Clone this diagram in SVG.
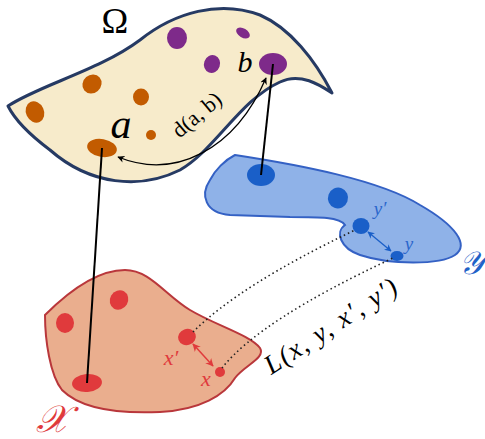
<svg xmlns="http://www.w3.org/2000/svg" width="485" height="439" viewBox="0 0 485 439">
<defs>
<style>
.omega{fill:#f7ebcb;stroke:#263a63;stroke-width:3;stroke-linejoin:round}
.yset{fill:#8fb2e8;stroke:#3461c4;stroke-width:2}
.xset{fill:#eaae8e;stroke:#b9373b;stroke-width:2}
.or{fill:#c25b00}
.pu{fill:#7e2a8a}
.bl{fill:#1a5fc8}
.rd{fill:#e03a3c}
.map{stroke:#000;stroke-width:2;fill:none}
.dot{stroke:#222;stroke-width:1.6;fill:none;stroke-dasharray:1.5 3}
.math{font-family:"Liberation Serif","DejaVu Serif",serif;font-style:italic}
</style>
<marker id="ak" viewBox="0 0 10 10" refX="9" refY="5" markerWidth="7" markerHeight="7" orient="auto-start-reverse" markerUnits="userSpaceOnUse"><path d="M0,0 L10,5 L0,10 L3,5 Z" fill="#000"/></marker>
<marker id="ab" viewBox="0 0 10 10" refX="9" refY="5" markerWidth="7" markerHeight="7" orient="auto-start-reverse" markerUnits="userSpaceOnUse"><path d="M0,0 L10,5 L0,10 L3,5 Z" fill="#1a5fc8"/></marker>
<marker id="ar" viewBox="0 0 10 10" refX="9" refY="5" markerWidth="8" markerHeight="8" orient="auto-start-reverse" markerUnits="userSpaceOnUse"><path d="M0,0 L10,5 L0,10 L3,5 Z" fill="#e03a3c"/></marker>
</defs>

<g id="node-omega">
<path class="omega" d="M8,106 C40,85 100,70 140,40 C175,12 220,0 260,15 C290,28 315,60 332,93 C320,85 300,72 280,82 C240,100 215,150 180,170 C140,190 90,185 50,150 C30,135 15,120 8,106 Z"/>
<ellipse class="or" cx="35" cy="112" rx="9" ry="11" transform="rotate(-25 35 112)"/>
<ellipse class="or" cx="92" cy="84" rx="10" ry="9" transform="rotate(-40 92 84)"/>
<ellipse class="or" cx="141" cy="97" rx="8" ry="8.5"/>
<circle class="or" cx="151" cy="135" r="5"/>
<ellipse class="or" cx="102" cy="148" rx="15" ry="9" transform="rotate(10 102 148)"/>
<ellipse class="pu" cx="177" cy="38" rx="10" ry="11"/>
<ellipse class="pu" cx="212" cy="64" rx="8" ry="9" transform="rotate(20 212 64)"/>
<ellipse class="pu" cx="243" cy="33" rx="7.5" ry="4.5" transform="rotate(30 243 33)"/>
<ellipse class="pu" cx="273" cy="64" rx="14" ry="11"/>
<text x="115" y="33" font-family="'Liberation Serif','DejaVu Serif',serif" font-size="36" text-anchor="middle">Ω</text>
<text class="math" x="121" y="138" font-size="42" text-anchor="middle">a</text>
<text class="math" x="245" y="72" font-size="30" text-anchor="middle">b</text>
<text x="197" y="122" font-family="'Liberation Serif','DejaVu Serif',serif" font-size="22" text-anchor="middle" transform="rotate(-40 197 115)">d(a, b)</text>
</g>

<g id="node-y">
<path class="yset" d="M235,155 C300,165 380,180 420,205 C455,225 470,245 455,255 C440,265 390,265 360,255 C340,248 335,232 345,225 C340,217 320,217 290,217 L230,215 C205,213 200,195 210,180 C215,170 225,160 235,155 Z"/>
<ellipse class="bl" cx="261" cy="175" rx="14" ry="11"/>
<ellipse class="bl" cx="338" cy="198" rx="10" ry="10.5" transform="rotate(20 338 198)"/>
<ellipse class="bl" cx="361" cy="226" rx="8.5" ry="8"/>
<ellipse class="bl" cx="397" cy="256" rx="6.5" ry="5"/>
<text class="math" x="380" y="215" font-size="19" fill="#2a66cc" text-anchor="middle">y′</text>
<text class="math" x="409" y="250" font-size="19" fill="#2a66cc" text-anchor="middle">y</text>
<text class="math" x="459" y="274" font-size="32" fill="#1f62c8">𝒴</text>
</g>

<g id="node-x">
<path class="xset" d="M45,315 C65,295 95,270 125,270 C150,270 165,295 190,310 C215,325 250,335 260,348 C266,358 245,365 235,378 C225,395 200,410 160,412 C115,414 80,408 62,390 C50,375 45,340 45,315 Z"/>
<ellipse class="rd" cx="65" cy="323" rx="9" ry="10"/>
<ellipse class="rd" cx="119" cy="300" rx="9" ry="10" transform="rotate(30 119 300)"/>
<ellipse class="rd" cx="187" cy="337" rx="9" ry="8" transform="rotate(-20 187 337)"/>
<circle class="rd" cx="220" cy="372" r="5"/>
<ellipse class="rd" cx="87" cy="383" rx="15" ry="9" transform="rotate(-5 87 383)"/>
<text class="math" x="171" y="365" font-size="22" fill="#e03a3c" text-anchor="middle">x′</text>
<text class="math" x="206" y="386" font-size="22" fill="#e03a3c" text-anchor="middle">x</text>
<text class="math" x="52" y="432" font-size="38" fill="#e03a3c" text-anchor="middle">𝒳</text>
</g>

<g id="connectors">
<path class="map" d="M102,148 L87,383"/>
<path class="map" d="M273,64 L261,175"/>
<path d="M118,157 C175,180 235,150 266,78" fill="none" stroke="#000" stroke-width="1.3" marker-start="url(#ak)" marker-end="url(#ak)"/>
<path class="dot" d="M193,332 Q240,285 355,230"/>
<path class="dot" d="M222,368 Q260,320 393,258"/>
<path d="M368,232 L391,251" fill="none" stroke="#1a5fc8" stroke-width="1.3" marker-start="url(#ab)" marker-end="url(#ab)"/>
<path d="M193,344 L213,366" fill="none" stroke="#e03a3c" stroke-width="1.5" marker-start="url(#ar)" marker-end="url(#ar)"/>
<text class="math" x="336" y="333" font-size="27" letter-spacing="1.5" text-anchor="middle" transform="rotate(-33 336 333)">L(x, y, x′, y′)</text>
</g>
</svg>
